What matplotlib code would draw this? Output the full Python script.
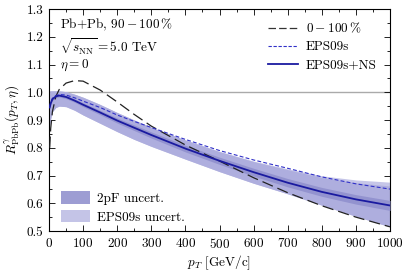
import numpy as np
import matplotlib
matplotlib.use("Agg")
from matplotlib import pyplot as plt
from matplotlib.patches import Patch
from matplotlib.lines import Line2D

plt.rcParams['font.family'] = 'serif'
plt.rcParams['font.serif'] = ['cmr10']
plt.rcParams['mathtext.fontset'] = 'cm'
plt.rcParams['axes.unicode_minus'] = False
plt.rcParams['axes.formatter.use_mathtext'] = True

# pT grid [GeV/c]
pt = [2, 5, 10, 20, 30, 50, 75, 100, 150, 200, 250, 300, 400, 500, 600, 700, 800, 900, 1000]

# R_PbPb curves
eps09s_ns = [0.945, 0.960, 0.975, 0.985, 0.988, 0.983, 0.970, 0.955, 0.927, 0.898, 0.872, 0.846,
             0.797, 0.753, 0.712, 0.674, 0.641, 0.614, 0.592]
eps09s = [0.948, 0.962, 0.978, 0.988, 0.992, 0.990, 0.980, 0.968, 0.945, 0.918, 0.895, 0.873,
          0.830, 0.790, 0.756, 0.726, 0.695, 0.670, 0.651]
cent_0_100 = [0.800, 0.870, 0.930, 0.985, 1.010, 1.033, 1.042, 1.040, 1.008, 0.965, 0.920, 0.878,
              0.810, 0.752, 0.692, 0.638, 0.591, 0.550, 0.515]

# EPS09s uncertainty band
eps_lo = [0.880, 0.905, 0.930, 0.945, 0.950, 0.948, 0.935, 0.918, 0.888, 0.858, 0.830, 0.805,
          0.759, 0.714, 0.672, 0.634, 0.593, 0.553, 0.515]
eps_hi = [1.005, 1.005, 1.005, 1.005, 1.005, 1.002, 0.993, 0.982, 0.956, 0.927, 0.900, 0.874,
          0.828, 0.787, 0.752, 0.724, 0.699, 0.684, 0.676]
eps_hi_ns = [1.005, 1.005, 1.005, 1.005, 1.005, 1.002, 0.993, 0.982, 0.956, 0.927, 0.900, 0.874,
             0.828, 0.786, 0.750, 0.721, 0.693, 0.674, 0.662]

# 2pF uncertainty band
pf_lo = [0.941, 0.956, 0.970, 0.980, 0.983, 0.977, 0.964, 0.948, 0.919, 0.889, 0.862, 0.835,
         0.785, 0.740, 0.698, 0.659, 0.625, 0.597, 0.574]
pf_hi = [0.949, 0.964, 0.980, 0.990, 0.993, 0.989, 0.976, 0.962, 0.935, 0.907, 0.882, 0.857,
         0.809, 0.766, 0.726, 0.689, 0.657, 0.631, 0.610]

fig = plt.figure(figsize=(4.07, 2.73), dpi=100)
ax = fig.add_axes([49/407, 1-231/273, 341/407, 222/273])

ax.axhline(1.0, color='#aaaaaa', lw=1.0, zorder=1)
ax.fill_between(pt, eps_lo, eps_hi, color='#c6c6e8', lw=0, zorder=2)
ax.fill_between(pt, eps_lo, eps_hi_ns, color='#aeaede', lw=0, zorder=2)
ax.fill_between(pt, pf_lo, pf_hi, color='#9393cf', lw=0, zorder=3)

ax.plot(pt, cent_0_100, color='#222222', lw=0.9, dashes=(9, 4), zorder=5)
ax.plot(pt, eps09s, color='#3030c8', lw=0.8, dashes=(3.5, 2), zorder=5)
ax.plot(pt, eps09s_ns, color='#1a1aa0', lw=1.3, zorder=6)

ax.set_xlim(0, 1000)
ax.set_ylim(0.5, 1.3)
ax.set_xticks(np.arange(0, 1001, 100))
ax.set_xticks(np.arange(0, 1001, 50), minor=True)
ax.set_yticks(np.arange(0.5, 1.31, 0.1))
ax.set_yticks(np.arange(0.5, 1.31, 0.05), minor=True)
ax.set_yticklabels(['%.1f' % v for v in np.arange(0.5, 1.31, 0.1)])
ax.tick_params(which='both', direction='in', top=True, right=True, labelsize=9.5)
ax.tick_params(which='major', length=4, width=0.6, pad=4)
ax.tick_params(which='minor', length=2, width=0.6)
for s in ax.spines.values():
    s.set_linewidth(0.8)

ax.set_xlabel(r'$p_T$ [GeV/c]', fontsize=9.5, labelpad=2)
ax.set_ylabel(r'$R^{\gamma}_{\rm PbPb}(p_T,\eta)$', fontsize=9.5, labelpad=3)

ax.text(0.032, 0.965, r'Pb+Pb, $90-100\,\%$', transform=ax.transAxes, fontsize=9.5, va='top')
ax.text(0.032, 0.875, r'$\sqrt{s_{\rm NN}}=5.0$ TeV', transform=ax.transAxes, fontsize=9.5, va='top')
ax.text(0.032, 0.78, r'$\eta=0$', transform=ax.transAxes, fontsize=9.5, va='top')

line_handles = [Line2D([], [], color='#333333', lw=0.9, dashes=(6, 2.5)),
                Line2D([], [], color='#3030c8', lw=0.8, dashes=(3, 1.5)),
                Line2D([], [], color='#1a1aa0', lw=1.3)]
leg1 = ax.legend(line_handles, [r'$0-100\,\%$', 'EPS09s', 'EPS09s+NS'], loc='upper right',
                 bbox_to_anchor=(0.995, 1.0), frameon=False, fontsize=9.5, handlelength=2.3,
                 labelspacing=0.45, handletextpad=0.55)
ax.add_artist(leg1)

patch_handles = [Patch(color='#9d9dd3', lw=0), Patch(color='#c4c4e7', lw=0)]
ax.legend(patch_handles, ['2pF uncert.', 'EPS09s uncert.'], loc='lower left',
          bbox_to_anchor=(0.0, -0.02), frameon=False, fontsize=9.5, handlelength=2.2,
          handleheight=1.1, labelspacing=0.35, handletextpad=0.55)

fig.savefig('out.png', dpi=100)
